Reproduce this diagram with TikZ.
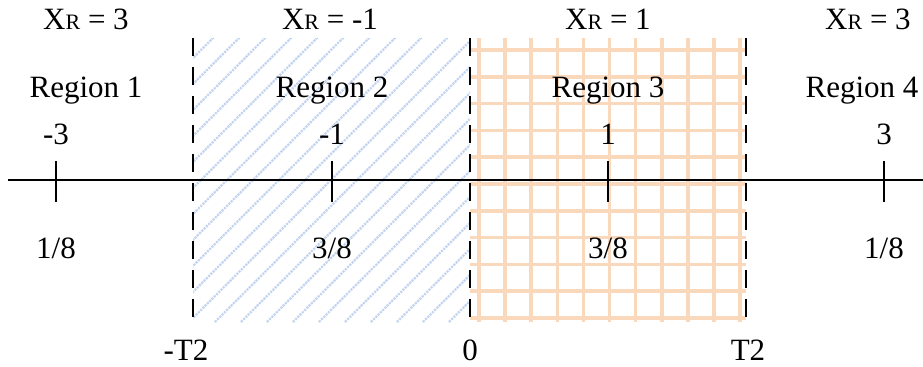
\documentclass[tikz,border=0pt]{standalone}
\usepackage{fontspec}
\setmainfont{Liberation Serif}
\newfontfamily\lblfont{Liberation Serif}
\usetikzlibrary{positioning}
\definecolor{hatchblue}{HTML}{C4D5EF}
\definecolor{gridpeach}{HTML}{FAD8BC}
\newcommand{\xr}[1]{X{\fontsize{11}{13}\selectfont R} = #1}

\begin{document}
\begin{tikzpicture}[
  x=0.5pt, y=-0.5pt,
  lbl/.style={font=\lblfont\fontsize{15.5}{18}\selectfont, inner sep=0pt, anchor=base},
  bound/.style={line width=1.4pt, dash pattern=on 9pt off 5.5pt},
  axis/.style={line width=1pt},
  tickmark/.style={line width=1pt},
  hatch/.style={draw=hatchblue, line width=1.1pt, dash pattern=on 1.1pt off 0.5pt},
  gridline/.style={draw=gridpeach, line width=1.8pt}
]
\useasboundingbox (0,0) rectangle (923,366);

% region 2 hatching
\begin{scope}
  \clip (193,38) rectangle (470,322);
  \foreach \i in {0,...,22}
    \draw[hatch] (-97+26*\i,322) -- ++(290,-290);
\end{scope}

% region 3 grid
\foreach \gx in {0,...,10}
  \draw[gridline] (479+26.1*\gx,38) -- (479+26.1*\gx,322);
\foreach \gy in {0,...,10}
  \draw[gridline] (470,50+26.8*\gy) -- (746,50+26.8*\gy);

% axis
\coordinate (axl) at (8,180);
\coordinate (axr) at (923,180);
\draw[axis] (axl) -- (axr);

% ticks and values
\foreach \tx/\tv/\tp [count=\k] in {56/-3/{1/8}, 332/-1/{3/8}, 608/1/{3/8}, 884/3/{1/8}} {
  \coordinate (tick\k top) at (\tx,161);
  \coordinate (tick\k bot) at (\tx,202);
  \draw[tickmark] (tick\k top) -- (tick\k bot);
  \node[lbl] (val\k) at (\tx,144) {\tv};
  \node[lbl] (prob\k) at (\tx,258) {\tp};
}

% region boundaries
\foreach \bx/\lx/\bl [count=\k] in {193/186/-T2, 470/470/0, 746/748/T2} {
  \coordinate (bnd\k top) at (\bx,38);
  \coordinate (bnd\k bot) at (\bx,322);
  \draw[bound] (bnd\k top) -- (bnd\k bot);
  \node[lbl] (edge\k) at (\lx,360) {\bl};
}

% region titles
\foreach \rx/\rv [count=\k] in {86/3, 330/-1, 608/1, 868/3}
  \node[lbl] (xr\k) at (\rx,29) {\xr{\rv}};
\foreach \rx [count=\k] in {86, 332, 608, 862}
  \node[lbl] (reg\k) at (\rx,97) {Region \k};

\end{tikzpicture}
\end{document}
